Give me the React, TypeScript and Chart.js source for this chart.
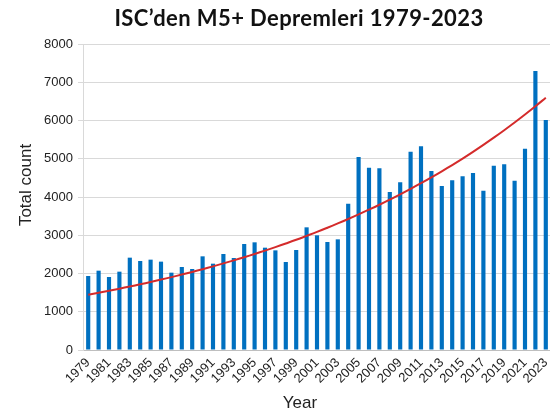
import React, { useEffect, useRef } from "react";
import { Chart, registerables } from "chart.js";

Chart.register(...registerables);

const chartTitle = "ISC’den M5+ Depremleri 1979-2023";
const xTitle = "Year";
const yTitle = "Total count";

const years = [
  "1979", "1980", "1981", "1982", "1983", "1984", "1985", "1986", "1987", "1988",
  "1989", "1990", "1991", "1992", "1993", "1994", "1995", "1996", "1997", "1998",
  "1999", "2000", "2001", "2002", "2003", "2004", "2005", "2006", "2007", "2008",
  "2009", "2010", "2011", "2012", "2013", "2014", "2015", "2016", "2017", "2018",
  "2019", "2020", "2021", "2022", "2023",
];

const counts = [
  1935, 2074, 1909, 2048, 2414, 2327, 2362, 2310, 2022, 2170,
  2118, 2449, 2257, 2510, 2405, 2771, 2815, 2675, 2605, 2301,
  2614, 3207, 2998, 2824, 2893, 3826, 5046, 4767, 4749, 4131,
  4383, 5185, 5325, 4680, 4288, 4436, 4540, 4627, 4166, 4819,
  4854, 4427, 5263, 7294, 6013,
];

const trend = [
  1446, 1497, 1549, 1604, 1660, 1718, 1778, 1841, 1905, 1972,
  2041, 2113, 2187, 2264, 2343, 2426, 2511, 2599, 2690, 2785,
  2882, 2984, 3088, 3197, 3309, 3425, 3545, 3670, 3798, 3932,
  4070, 4213, 4360, 4513, 4672, 4836, 5005, 5181, 5363, 5551,
  5746, 5947, 6156, 6372, 6596,
];

const yTicks = [0, 1000, 2000, 3000, 4000, 5000, 6000, 7000, 8000];

const titlesPlugin = {
  id: "customTitles",
  afterDraw(chart: any) {
    const ctx = chart.ctx;
    const area = chart.chartArea;
    ctx.save();
    ctx.fillStyle = "#111";
    ctx.textAlign = "center";
    ctx.textBaseline = "alphabetic";
    ctx.font = "bold 22px Lato";
    try {
      (ctx as any).letterSpacing = "0.4px";
    } catch (e) {}
    ctx.fillText(chartTitle, 299, 26);
    try {
      (ctx as any).letterSpacing = "0px";
    } catch (e) {}
    ctx.font = '17px "Liberation Sans"';
    ctx.fillStyle = "#222";
    ctx.fillText(xTitle, 300, 408);
    ctx.translate(31, (area.top + area.bottom) / 2 - 12);
    ctx.rotate(-Math.PI / 2);
    ctx.fillText(yTitle, 0, 0);
    ctx.restore();
  },
};

export default function App() {
  const ref = useRef<HTMLCanvasElement | null>(null);
  useEffect(() => {
    if (!ref.current) return;
    const chart = new Chart(ref.current, {
      type: "bar",
      data: {
        labels: years,
        datasets: [
          {
            type: "line",
            label: "Trend",
            data: trend,
            borderColor: "#d42b2b",
            borderWidth: 2,
            pointRadius: 0,
            tension: 0.4,
            fill: false,
            order: 0,
          } as any,
          {
            type: "bar",
            label: "Total count",
            data: counts,
            backgroundColor: "#0070c0",
            barPercentage: 0.4,
            categoryPercentage: 1,
            order: 1,
          },
        ],
      },
      options: {
        responsive: false,
        animation: false,
        devicePixelRatio: 1,
        layout: { padding: { top: 44, right: 1, left: 0, bottom: 0 } },
        plugins: {
          legend: { display: false },
          title: { display: false },
          tooltip: { enabled: false },
        },
        scales: {
          x: {
            offset: true,
            grid: { display: false, drawTicks: false },
            border: { display: true, color: "#bfbfbf" },
            ticks: {
              autoSkip: false,
              maxRotation: 45,
              minRotation: 45,
              padding: 5,
              color: "#222",
              font: { family: "Liberation Sans", size: 13 },
              callback: (_v: any, i: number) => (i % 2 === 0 ? years[i] : ""),
            },
            afterFit: (s: any) => {
              s.height = 62;
              s.paddingRight = 0;
              s.paddingLeft = 0;
            },
          },
          y: {
            min: 0,
            max: 8000,
            afterBuildTicks: (s: any) => {
              s.ticks = yTicks.map((v) => ({ value: v }));
            },
            grid: { color: "#d9d9d9", lineWidth: 1, tickLength: 5, drawTicks: true },
            border: { display: true, color: "#d9d9d9" },
            ticks: {
              padding: 5,
              color: "#222",
              font: { family: "Liberation Sans", size: 13 },
              callback: (v: any) => String(v),
            },
            afterFit: (s: any) => {
              s.width = 83;
            },
          },
        },
      },
      plugins: [titlesPlugin],
    });
    return () => chart.destroy();
  }, []);
  return (
    <div style={{ position: "absolute", left: 0, top: 0, width: 550, height: 412, overflow: "hidden" }}>
      <canvas ref={ref} width={552} height={412} style={{ display: "block" }} />
    </div>
  );
}
